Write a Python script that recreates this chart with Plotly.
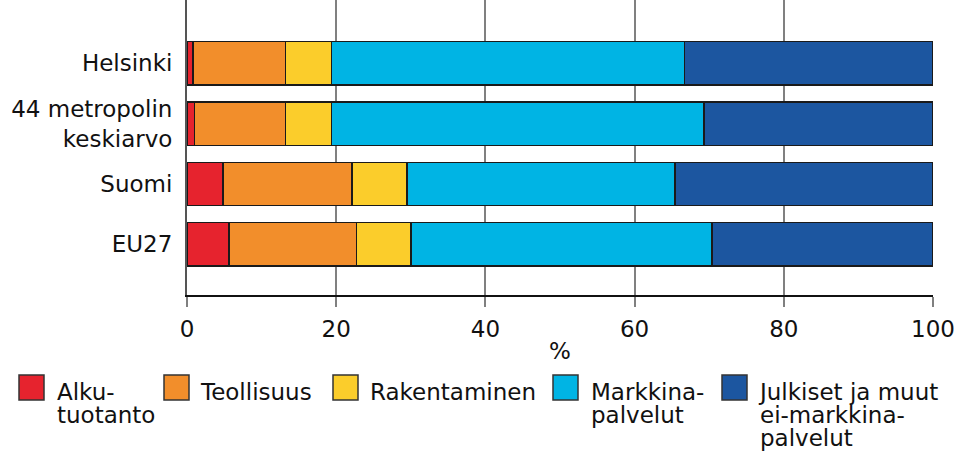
import plotly.graph_objects as go

categories = ["EU27", "Suomi", "44 metropolin<br>keskiarvo", "Helsinki"]
series_names = ["Alku-<br>tuotanto", "Teollisuus", "Rakentaminen", "Markkina-<br>palvelut",
                "Julkiset ja muut<br>ei-markkina-<br>palvelut"]
alkutuotanto = [5.6, 4.8, 1.0, 0.8]
teollisuus = [17.1, 17.3, 12.2, 12.4]
rakentaminen = [7.3, 7.4, 6.2, 6.15]
markkinapalvelut = [40.4, 35.9, 49.9, 47.35]
julkiset = [29.6, 34.6, 30.7, 33.3]
series_values = [alkutuotanto, teollisuus, rakentaminen, markkinapalvelut, julkiset]
colors = ["#E6232E", "#F28E2B", "#FBCD2B", "#00B4E4", "#1C56A0"]
x_ticks = [0, 20, 40, 60, 80, 100]
x_title = "%"

FONT = "DejaVu Sans"
FS = 23

fig = go.Figure()
for name, vals, col in zip(series_names, series_values, colors):
    fig.add_trace(go.Bar(
        y=categories, x=vals, name=name, orientation="h",
        marker=dict(color=col, line=dict(color="#1a1a1a", width=1.5)),
        width=0.72, showlegend=False,
    ))

# plot area in pixels
L, R, T, B = 187, 933, 0, 295
W, H = 959, 452

def px(x):
    return (x - L) / (R - L)

def py(y):
    return (B - y) / (B - T)

# manual legend
swatch_x = [19, 164, 333, 553, 722]
text_x = [56, 199, 369, 590, 757]
shapes = []
annotations = []
for i, name in enumerate(series_names):
    shapes.append(dict(type="rect", xref="paper", yref="paper",
                       x0=px(swatch_x[i]), x1=px(swatch_x[i] + 25),
                       y0=py(400), y1=py(375),
                       fillcolor=colors[i], line=dict(color="#333333", width=1.5)))
    styled = "<br>".join(f'<span style="font-size:{FS}px">{ln}</span>'
                         for ln in name.split("<br>"))
    annotations.append(dict(xref="paper", yref="paper", x=px(text_x[i]),
                            y=py(378), xanchor="left", yanchor="top", align="left",
                            borderpad=0, text=styled, showarrow=False,
                            font=dict(family=FONT, size=17.8, color="#111111")))

fig.update_layout(
    barmode="stack",
    width=W, height=H,
    margin=dict(l=L, r=W - R, t=T, b=H - B),
    paper_bgcolor="white", plot_bgcolor="white",
    font=dict(family=FONT, size=FS, color="#111111"),
    shapes=shapes, annotations=annotations,
    xaxis=dict(range=[0, 100], tickvals=x_ticks, ticktext=[str(v) for v in x_ticks],
               showgrid=True, gridcolor="#808080", gridwidth=2,
               zeroline=False, showline=True, linecolor="#111111", linewidth=1.5,
               ticks="outside", ticklen=10, tickcolor="#808080", tickwidth=2,
               ticklabelstandoff=3,
               title=dict(text=x_title, standoff=2, font=dict(family=FONT, size=FS)),
               tickfont=dict(family=FONT, size=FS)),
    yaxis=dict(range=[-0.84, 4.05], showgrid=False, zeroline=False,
               showline=True, linecolor="#555555", linewidth=2,
               ticks="outside", ticklen=8, tickcolor="rgba(0,0,0,0)",
               tickfont=dict(family=FONT, size=FS)),
)

fig.write_html("out.html", config={"displayModeBar": False},
               post_script="document.body.style.margin='0';")
